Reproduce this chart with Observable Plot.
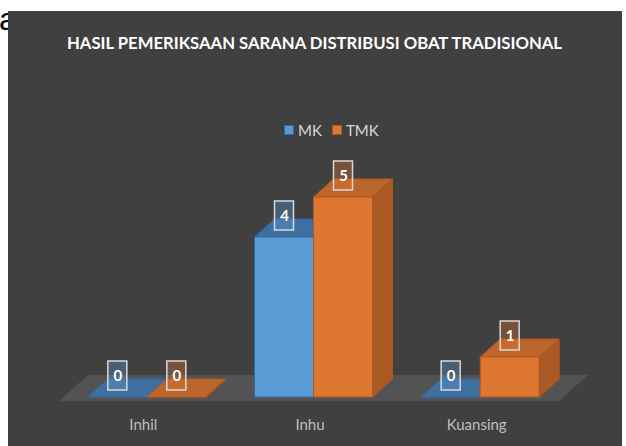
<!DOCTYPE html>
<html>
<head>
<meta charset="utf-8">
<script src="https://cdn.jsdelivr.net/npm/d3@7"></script>
<script src="https://cdn.jsdelivr.net/npm/@observablehq/plot@0.6"></script>
<style>
  html, body { margin: 0; padding: 0; background: #ffffff; }
  body { width: 626px; height: 446px; position: relative; overflow: hidden; font-family: Lato, "Open Sans", sans-serif; }
  #bgtext { position: absolute; left: -1px; top: 3px; font: 32px/32px "Liberation Sans", Arial, sans-serif; color: #000; white-space: nowrap; }
  #panel { position: absolute; left: 8px; top: 11px; width: 614px; height: 435px; background: #404040; }
  #title { position: absolute; left: 67px; top: 32px; width: 495px; height: 22px; white-space: nowrap; }
  #title span { display: inline-block; transform-origin: left center; font: bold 17.5px Lato, sans-serif; color: #ffffff; }
  #legend { position: absolute; left: 284px; top: 120px; white-space: nowrap; font: 15px Lato, sans-serif; color: #d9d9d9; }
  #legend .item { display: inline-flex; align-items: center; margin-right: 10px; }
  #legend .sw { width: 8px; height: 8px; margin-right: 4px; border: 1px solid; }
  #chart { position: absolute; left: 0; top: 0; }
</style>
</head>
<body>
<div id="bgtext">a</div>
<div id="panel"></div>
<div id="title"><span>HASIL PEMERIKSAAN SARANA DISTRIBUSI OBAT TRADISIONAL</span></div>
<div id="legend"></div>
<div id="chart"></div>
<script>
// ---- data ----
const categories = ["Inhil", "Inhu", "Kuansing"];
const series = ["MK", "TMK"];
const mkValues = [0, 4, 0];
const tmkValues = [0, 5, 1];

// ---- styles ----
const frontColors = ["#5b9bd5", "#dd7631"];
const topColors = ["#3f6f9e", "#bd662b"];
const sideColors = ["#3a6795", "#a95a25"];
const edgeColors = ["#2f6aa3", "#b4561b"];

// legend
const legend = document.getElementById("legend");
series.forEach((s, k) => {
  const it = document.createElement("span");
  it.className = "item";
  it.innerHTML = `<span class="sw" style="background:${frontColors[k]};border-color:${edgeColors[k]}"></span>${s}`;
  legend.appendChild(it);
});

// fit title
const tspan = document.querySelector("#title span");
const tw = tspan.getBoundingClientRect().width;
tspan.style.transform = `scaleX(${495 / tw})`;

// geometry (in scale units)
const W = 0.354;   // bar width
const DX = 0.12;   // depth in x
const DY = 0.45;   // depth in y

const valuesBySeries = [mkValues, tmkValues];
const bars = [];
categories.forEach((c, i) => {
  series.forEach((s, k) => {
    const xL = i + 0.5 - W + k * W;
    bars.push({c, i, s, k, v: valuesBySeries[k][i], xL, xR: xL + W, xc: xL + W / 2, id: c + s});
  });
});

const floor = [
  {y: -0.1, x1: -0.027, x2: 2.973},
  {y: 0.55, x1: 0.147, x2: 3.147}
];

const marks = [
  Plot.areaX(floor, {y: "y", x1: "x1", x2: "x2", fill: "#535353"})
];

series.forEach((s, k) => {
  const bk = bars.filter(b => b.k === k);
  const tops = bk.flatMap(b => [
    {id: b.id, y: b.v, x1: b.xL, x2: b.xR},
    {id: b.id, y: b.v + DY, x1: b.xL + DX, x2: b.xR + DX}
  ]);
  const sides = bk.flatMap(b => [
    {id: b.id, x: b.xR, y1: 0, y2: b.v},
    {id: b.id, x: b.xR + DX, y1: DY, y2: b.v + DY}
  ]);
  marks.push(
    Plot.areaX(tops, {y: "y", x1: "x1", x2: "x2", z: "id", fill: topColors[k], stroke: edgeColors[k], strokeWidth: 1}),
    Plot.areaY(sides, {x: "x", y1: "y1", y2: "y2", z: "id", fill: sideColors[k], stroke: edgeColors[k], strokeWidth: 1}),
    Plot.rect(bk, {x1: "xL", x2: "xR", y1: 0, y2: "v", fill: frontColors[k], stroke: edgeColors[k], strokeWidth: 1})
  );
});

// data labels
marks.push(
  Plot.rect(bars, {x1: d => d.xc - 0.057, x2: d => d.xc + 0.057, y1: d => d.v + 0.175, y2: d => d.v + 0.9,
    fill: d => frontColors[d.k], fillOpacity: 0.35, stroke: "#d9d9d9", strokeWidth: 1.5}),
  Plot.text(bars, {x: "xc", y: d => d.v + 0.5375, text: d => String(d.v), fill: "#ffffff",
    fontWeight: "bold", fontSize: 15, fontFamily: "Lato, sans-serif"})
);

// category labels
marks.push(
  Plot.text(categories, {x: (d, i) => i + 0.5, y: -0.68, text: d => d, dx: -4, fill: "#bfbfbf",
    fontSize: 15, fontFamily: "Lato, sans-serif"})
);

const chart = Plot.plot({
  width: 626,
  height: 446,
  margin: 0,
  style: {background: "transparent", overflow: "visible"},
  x: {domain: [0, 3], range: [63.5, 563.5], axis: null},
  y: {domain: [0, 1], range: [397, 357], axis: null},
  color: {type: "identity"},
  marks
});
document.getElementById("chart").appendChild(chart);
</script>
</body>
</html>
